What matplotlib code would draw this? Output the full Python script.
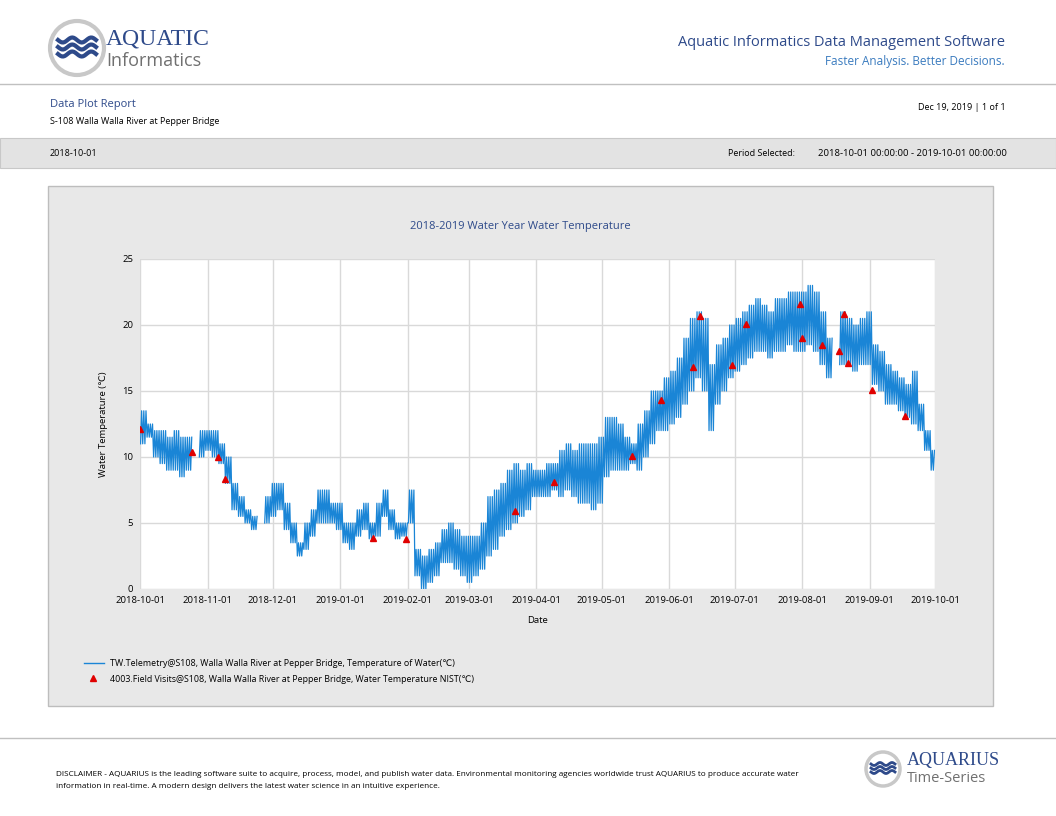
import numpy as np
import pandas as pd
import matplotlib
matplotlib.use("Agg")
import matplotlib.pyplot as plt
import matplotlib.dates as mdates
from matplotlib.patches import Rectangle, Circle

plt.rcParams['font.family'] = ['Open Sans', 'DejaVu Sans']

# 3-day blocks starting 2018-10-01: daily low / high water temperature (degC), None = gap
block_low = [11, 11.5, 10, 9.5, 9, 9, 8.5, 9, None, 10, 10.5,
             10, 9.5, 8, 6, 5.5, 5, 4.5, None, 5, 5.5,
             6, 4.5, 3.5, 2.5, 3, 4, 5, 5, 5, 4.5,
             3.5, 3, 4, 4.5, 3.8, 4, 5.5, 4.5, 3.8, 4,
             5, 1, 0, 0.5, 1, 2, 2, 1.5, 1, 0.5,
             1, 1.5, 2.5, 3, 4, 4.5, 5, 5.5, 6, 7,
             7, 7, 7.5, 7, 7.5, 7, 6.5, 6.5, 6, 6.5,
             8.5, 9, 9, 9, 9.5, 9, 10, 11, 12, 12,
             12.5, 13, 14, 15, 16, 15, 12, 14, 15, 16,
             16.5, 17, 17.5, 18, 18, 17.5, 18, 18, 18.5, 18, 18,
             18.5, 18, 17, 16, None, 17, 17, 16.5, 17, 17,
             15.5, 15, 14, 14, 13.5, 13, 12.5, 12, 10.5, 9]
block_high = [13.5, 12.5, 12, 12, 11.5, 12, 11.5, 11.5, None, 12, 12,
              12, 11, 10, 8, 7, 6, 5.5, None, 7, 8,
              8, 6.5, 5, 3.5, 5, 6, 7.5, 7.5, 6.5, 6.5,
              5, 5, 6, 6.5, 5, 6.5, 7.5, 6, 5, 5,
              7.5, 3, 2.5, 3, 3.5, 4.5, 5, 4.5, 4, 4,
              4, 5, 7, 7.5, 8, 9, 9.5, 9, 9.5, 9,
              9, 9.5, 9.5, 10.5, 11, 10.5, 11, 11, 11, 11.5,
              13, 13, 12.5, 11.5, 11, 12.5, 13.5, 15, 15, 16,
              16.5, 17.5, 19, 20.5, 21, 20.5, 17, 18.5, 19, 20,
              20.5, 21, 21.5, 22, 21.5, 21, 22, 22, 22.5, 22.5, 22.5,
              23, 22.5, 21, 19, None, 21, 20.5, 20, 20.5, 21,
              18.5, 18, 17, 16.5, 16, 15.5, 16.5, 14, 12, 10.5]

visit_dates = ['2018-10-01', '2018-10-25', '2018-11-06', '2018-11-09', '2019-01-16',
               '2019-01-31', '2019-03-22', '2019-04-09', '2019-05-15', '2019-05-28',
               '2019-06-12', '2019-06-15', '2019-06-30', '2019-07-06', '2019-07-31',
               '2019-08-01', '2019-08-10', '2019-08-18', '2019-08-20', '2019-08-22',
               '2019-09-02', '2019-09-17']
visit_temps = [12.1, 10.4, 10.0, 8.3, 3.9, 3.8, 5.9, 8.1, 10.1, 14.3, 16.8, 20.7,
               17.0, 20.1, 21.6, 19.0, 18.5, 18.0, 20.8, 17.1, 15.1, 13.1]

start = pd.Timestamp('2018-10-01')
end = pd.Timestamp('2019-10-01')
times, temps = [], []
for i, (lo, hi) in enumerate(zip(block_low, block_high)):
    for d in range(3):
        day = start + pd.Timedelta(days=3 * i + d)
        if day >= end:
            break
        if lo is None:
            times.append(day); temps.append(np.nan)
            continue
        times.append(day + pd.Timedelta(hours=6)); temps.append(lo)
        times.append(day + pd.Timedelta(hours=18)); temps.append(hi)

W, H = 1056, 816
fig = plt.figure(figsize=(W / 100, H / 100), dpi=100)
bg = fig.add_axes([0, 0, 1, 1])
bg.set_xlim(0, W); bg.set_ylim(H, 0); bg.axis('off')

navy = '#2e4a8a'
# header
bg.add_patch(Circle((77, 48), 27, fc='white', ec='#c8c8c8', lw=3))
for k in range(3):
    xs = np.linspace(58, 96, 30)
    bg.plot(xs, 40 + 7 * k + 2.5 * np.sin((xs - 58) / 38 * 4 * np.pi), color=navy, lw=3)
bg.text(106, 39, 'AQUATIC', fontsize=17, color=navy, va='center', family='Liberation Serif')
bg.text(106, 61, 'Informatics', fontsize=13, color='#707070', va='center')
bg.text(1005, 43, 'Aquatic Informatics Data Management Software', fontsize=10.5, color=navy, ha='right', va='center')
bg.text(1005, 61, 'Faster Analysis. Better Decisions.', fontsize=8.5, color='#3a7bbf', ha='right', va='center')
bg.plot([0, W], [84, 84], color='#c0c0c0', lw=1)
bg.text(50, 105, 'Data Plot Report', fontsize=8, color=navy, va='center')
bg.text(50, 121, 'S-108 Walla Walla River at Pepper Bridge', fontsize=6.5, color='black', va='center')
bg.text(1006, 108, 'Dec 19, 2019 | 1 of 1', fontsize=6.5, ha='right', va='center')
bg.add_patch(Rectangle((0, 138), W, 30, fc='#e3e3e3', ec='#c8c8c8', lw=0.8))
bg.text(50, 154, '2018-10-01', fontsize=6.5, va='center')
bg.text(728, 154, 'Period Selected:', fontsize=6.5, va='center')
bg.text(818, 154, '2018-10-01 00:00:00 - 2019-10-01 00:00:00', fontsize=6.8, va='center')
# plot panel
bg.add_patch(Rectangle((48, 186), 945, 520, fc='#e8e8e8', ec='#bdbdbd', lw=1))
bg.text(520, 227, '2018-2019 Water Year Water Temperature', fontsize=8, color=navy, ha='center', va='center')
# legend
bg.plot([84, 104], [663, 663], color='#1a85d6', lw=1)
bg.text(110, 664, 'TW.Telemetry@S108, Walla Walla River at Pepper Bridge, Temperature of Water(\u2103)', fontsize=6.4, va='center')
bg.plot([93], [678], marker='^', color='#e00000', ms=4, ls='none')
bg.text(110, 679, '4003.Field Visits@S108, Walla Walla River at Pepper Bridge, Water Temperature NIST(\u2103)', fontsize=6.4, va='center')
# footer
bg.plot([0, W], [738, 738], color='#c0c0c0', lw=1)
bg.text(56, 774, 'DISCLAIMER - AQUARIUS is the leading software suite to acquire, process, model, and publish water data. Environmental monitoring agencies worldwide trust AQUARIUS to produce accurate water',
        fontsize=5.9, va='center')
bg.text(56, 786, 'information in real-time. A modern design delivers the latest water science in an intuitive experience.',
        fontsize=5.9, va='center')
bg.add_patch(Circle((883, 769), 17, fc='white', ec='#c8c8c8', lw=2.5))
for k in range(3):
    xs = np.linspace(871, 895, 30)
    bg.plot(xs, 764 + 4 * k + 1.5 * np.sin((xs - 871) / 24 * 4 * np.pi), color=navy, lw=2)
bg.text(907, 761, 'AQUARIUS', fontsize=13, color=navy, va='center', family='Liberation Serif')
bg.text(907, 779, 'Time-Series', fontsize=10.5, color='#707070', va='center')

ax = fig.add_axes([140 / W, 1 - 589 / H, 795 / W, 330 / H])
ax.set_facecolor('white')
ax.plot(times, temps, color='#1a85d6', lw=0.9)
ax.plot(pd.to_datetime(visit_dates), visit_temps, ls='none', marker='^', color='#e00000', ms=4)
ax.set_xlim(start, end)
ax.set_ylim(0, 25)
ax.set_yticks([0, 5, 10, 15, 20, 25])
ax.set_xticks(pd.date_range('2018-10-01', '2019-10-01', freq='MS'))
ax.xaxis.set_major_formatter(mdates.DateFormatter('%Y-%m-%d'))
ax.grid(True, color='#d9d9d9', lw=1)
for s in ax.spines.values():
    s.set_visible(False)
ax.tick_params(length=0, labelsize=6.8, pad=5)
ax.set_xlabel('Date', fontsize=6.8, labelpad=8)
ax.set_ylabel('Water Temperature (\u2103)', fontsize=6.8, labelpad=10)

fig.savefig('out.png', dpi=100)
